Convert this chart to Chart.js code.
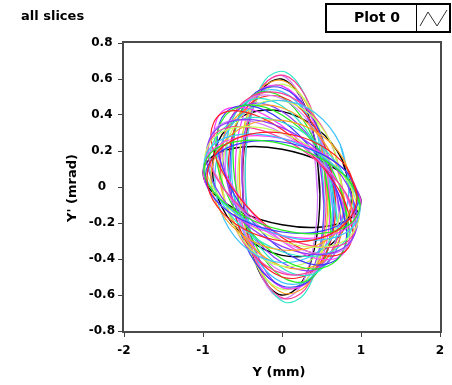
<!DOCTYPE html>
<html>
<head>
<meta charset="utf-8">
<script src="https://cdn.jsdelivr.net/npm/chart.js@4.4.1/dist/chart.umd.min.js"></script>
<style>
html, body { margin: 0; padding: 0; background: #fff; }
#wrap { width: 452px; height: 385px; }
</style>
</head>
<body>
<div id="wrap"><canvas id="myChart" width="452" height="385"></canvas></div>
<script>
// axis ticks
const xTicks = [-2, -1, 0, 1, 2];
const yTicks = [-0.8, -0.6, -0.4, -0.2, 0, 0.2, 0.4, 0.6, 0.8];

// one closed curve per slice, [Y (mm), Y' (mrad)]
const slice01 = [[1,-0.08],[0.866,0.036],[0.5,0.142],[0,0.21],[-0.5,0.222],[-0.866,0.174],[-1,0.08],[-0.866,-0.036],[-0.5,-0.142],[0,-0.21],[0.5,-0.222],[0.866,-0.174]];
const slice02 = [[0.99,-0.1],[0.857,0.033],[0.495,0.158],[0,0.24],[-0.495,0.258],[-0.857,0.207],[-0.99,0.1],[-0.857,-0.033],[-0.495,-0.158],[0,-0.24],[0.495,-0.258],[0.857,-0.207]];
const slice03 = [[0.99,-0.12],[0.857,0.031],[0.495,0.174],[0,0.27],[-0.495,0.294],[-0.857,0.239],[-0.99,0.12],[-0.857,-0.031],[-0.495,-0.174],[0,-0.27],[0.495,-0.294],[0.857,-0.239]];
const slice04 = [[0.98,-0.15],[0.849,0.02],[0.49,0.185],[0,0.3],[-0.49,0.335],[-0.849,0.28],[-0.98,0.15],[-0.849,-0.02],[-0.49,-0.185],[0,-0.3],[0.49,-0.335],[0.849,-0.28]];
const slice05 = [[0.96,-0.18],[0.831,0.009],[0.48,0.196],[0,0.33],[-0.48,0.376],[-0.831,0.321],[-0.96,0.18],[-0.831,-0.009],[-0.48,-0.196],[0,-0.33],[0.48,-0.376],[0.831,-0.321]];
const slice06 = [[0.93,-0.22],[0.805,-0.041],[0.465,0.15],[0,0.3],[-0.465,0.37],[-0.805,0.34],[-0.93,0.22],[-0.805,0.041],[-0.465,-0.15],[0,-0.3],[0.465,-0.37],[0.805,-0.34]];
const slice07 = [[0.9,-0.25],[0.779,-0.064],[0.45,0.145],[0,0.32],[-0.45,0.415],[-0.779,0.404],[-0.9,0.29],[-0.779,0.104],[-0.45,-0.105],[0,-0.28],[0.45,-0.375],[0.779,-0.364]];
const slice08 = [[0.86,-0.26],[0.745,-0.063],[0.43,0.157],[0,0.34],[-0.43,0.437],[-0.745,0.423],[-0.86,0.3],[-0.745,0.103],[-0.43,-0.117],[0,-0.3],[0.43,-0.397],[0.745,-0.383]];
const slice09 = [[0.82,-0.25],[0.71,-0.035],[0.41,0.192],[0,0.37],[-0.41,0.452],[-0.71,0.415],[-0.82,0.27],[-0.71,0.055],[-0.41,-0.172],[0,-0.35],[0.41,-0.432],[0.71,-0.395]];
const slice10 = [[0.88,-0.06],[0.762,0.151],[0.44,0.326],[0,0.42],[-0.44,0.406],[-0.762,0.289],[-0.88,0.1],[-0.762,-0.111],[-0.44,-0.286],[0,-0.38],[0.44,-0.366],[0.762,-0.249]];
const slice11 = [[0.85,0.01],[0.736,0.238],[0.425,0.41],[0,0.48],[-0.425,0.43],[-0.736,0.272],[-0.85,0.05],[-0.736,-0.178],[-0.425,-0.35],[0,-0.42],[0.425,-0.37],[0.736,-0.212]];
const slice12 = [[0.8,-0.12],[0.693,0.116],[0.4,0.321],[0,0.44],[-0.4,0.441],[-0.693,0.324],[-0.8,0.12],[-0.693,-0.116],[-0.4,-0.321],[0,-0.44],[0.4,-0.441],[0.693,-0.324]];
const slice13 = [[0.75,-0.2],[0.65,0.037],[0.375,0.264],[0,0.42],[-0.375,0.464],[-0.65,0.383],[-0.75,0.2],[-0.65,-0.037],[-0.375,-0.264],[0,-0.42],[0.375,-0.464],[0.65,-0.383]];
const slice14 = [[0.72,-0.14],[0.624,0.12],[0.36,0.351],[0,0.49],[-0.36,0.501],[-0.624,0.38],[-0.72,0.16],[-0.624,-0.1],[-0.36,-0.331],[0,-0.47],[0.36,-0.481],[0.624,-0.36]];
const slice15 = [[0.68,-0.1],[0.589,0.163],[0.34,0.383],[0,0.5],[-0.34,0.483],[-0.589,0.337],[-0.68,0.1],[-0.589,-0.163],[-0.34,-0.383],[0,-0.5],[0.34,-0.483],[0.589,-0.337]];
const slice16 = [[0.64,-0.12],[0.554,0.161],[0.32,0.399],[0,0.53],[-0.32,0.519],[-0.554,0.369],[-0.64,0.12],[-0.554,-0.161],[-0.32,-0.399],[0,-0.53],[0.32,-0.519],[0.554,-0.369]];
const slice17 = [[0.61,-0.1],[0.53,0.193],[0.31,0.435],[0.01,0.56],[-0.29,0.535],[-0.51,0.367],[-0.59,0.1],[-0.51,-0.193],[-0.29,-0.435],[0.01,-0.56],[0.31,-0.535],[0.53,-0.367]];
const slice18 = [[0.58,-0.08],[0.505,0.226],[0.3,0.471],[0.02,0.59],[-0.26,0.551],[-0.465,0.364],[-0.54,0.08],[-0.465,-0.226],[-0.26,-0.471],[0.02,-0.59],[0.3,-0.551],[0.505,-0.364]];
const slice19 = [[0.56,-0.06],[0.489,0.258],[0.295,0.507],[0.03,0.62],[-0.235,0.567],[-0.429,0.362],[-0.5,0.06],[-0.429,-0.258],[-0.235,-0.507],[0.03,-0.62],[0.295,-0.567],[0.489,-0.362]];
const slice20 = [[0.535,-0.08],[0.468,0.251],[0.285,0.514],[0.035,0.64],[-0.215,0.594],[-0.398,0.389],[-0.465,0.08],[-0.398,-0.251],[-0.215,-0.514],[0.035,-0.64],[0.285,-0.594],[0.468,-0.389]];
const slice21 = [[0.48,-0.04],[0.414,0.265],[0.235,0.5],[-0.01,0.6],[-0.255,0.54],[-0.434,0.335],[-0.5,0.04],[-0.434,-0.265],[-0.255,-0.5],[-0.01,-0.6],[0.235,-0.54],[0.414,-0.335]];
const slice22 = [[0.45,-0.05],[0.388,0.267],[0.22,0.512],[-0.01,0.62],[-0.24,0.562],[-0.408,0.353],[-0.47,0.05],[-0.408,-0.267],[-0.24,-0.512],[-0.01,-0.62],[0.22,-0.562],[0.388,-0.353]];
const slice23 = [[0.95,-0.05],[0.823,0.107],[0.475,0.235],[0,0.3],[-0.475,0.285],[-0.823,0.193],[-0.95,0.05],[-0.823,-0.107],[-0.475,-0.235],[0,-0.3],[0.475,-0.285],[0.823,-0.193]];
const slice24 = [[0.92,-0.14],[0.797,0.059],[0.46,0.242],[0,0.36],[-0.46,0.382],[-0.797,0.301],[-0.92,0.14],[-0.797,-0.059],[-0.46,-0.242],[0,-0.36],[0.46,-0.382],[0.797,-0.301]];
const slice25 = [[0.78,-0.08],[0.675,0.183],[0.39,0.403],[0,0.52],[-0.39,0.503],[-0.675,0.357],[-0.78,0.12],[-0.675,-0.143],[-0.39,-0.363],[0,-0.48],[0.39,-0.463],[0.675,-0.317]];
const slice26 = [[0.66,-0.1],[0.572,0.188],[0.33,0.426],[0,0.55],[-0.33,0.526],[-0.572,0.362],[-0.66,0.1],[-0.572,-0.188],[-0.33,-0.426],[0,-0.55],[0.33,-0.526],[0.572,-0.362]];
const slice27 = [[0.97,-0.06],[0.84,0.073],[0.485,0.187],[0,0.25],[-0.485,0.247],[-0.84,0.177],[-0.97,0.06],[-0.84,-0.073],[-0.485,-0.187],[0,-0.25],[0.485,-0.247],[0.84,-0.177]];
const slice28 = [[0.94,-0.2],[0.814,-0.038],[0.47,0.134],[0,0.27],[-0.47,0.334],[-0.814,0.308],[-0.94,0.2],[-0.814,0.038],[-0.47,-0.134],[0,-0.27],[0.47,-0.334],[0.814,-0.308]];
const slice29 = [[0.84,-0.22],[0.727,0.009],[0.42,0.236],[0,0.4],[-0.42,0.456],[-0.727,0.391],[-0.84,0.22],[-0.727,-0.009],[-0.42,-0.236],[0,-0.4],[0.42,-0.456],[0.727,-0.391]];
const slice30 = [[0.7,-0.2],[0.606,0.052],[0.35,0.29],[0,0.45],[-0.35,0.49],[-0.606,0.398],[-0.7,0.2],[-0.606,-0.052],[-0.35,-0.29],[0,-0.45],[0.35,-0.49],[0.606,-0.398]];
const slice31 = [[0.62,-0.18],[0.537,0.094],[0.31,0.343],[0,0.5],[-0.31,0.523],[-0.537,0.406],[-0.62,0.18],[-0.537,-0.094],[-0.31,-0.343],[0,-0.5],[0.31,-0.523],[0.537,-0.406]];
const slice32 = [[0.6,-0.04],[0.522,0.25],[0.31,0.474],[0.02,0.57],[-0.27,0.514],[-0.482,0.32],[-0.56,0.04],[-0.482,-0.25],[-0.27,-0.474],[0.02,-0.57],[0.31,-0.514],[0.522,-0.32]];
const slice33 = [[0.53,-0.1],[0.46,0.193],[0.27,0.435],[0.01,0.56],[-0.25,0.535],[-0.44,0.367],[-0.51,0.1],[-0.44,-0.193],[-0.25,-0.435],[0.01,-0.56],[0.27,-0.535],[0.46,-0.367]];
const slice34 = [[0.9,-0.03],[0.779,0.155],[0.45,0.302],[0,0.37],[-0.45,0.342],[-0.779,0.225],[-0.9,0.05],[-0.779,-0.135],[-0.45,-0.282],[0,-0.35],[0.45,-0.322],[0.779,-0.205]];
const slice35 = [[0.76,-0.03],[0.658,0.207],[0.38,0.393],[0,0.48],[-0.38,0.443],[-0.658,0.293],[-0.76,0.07],[-0.658,-0.167],[-0.38,-0.353],[0,-0.44],[0.38,-0.403],[0.658,-0.253]];
const slice36 = [[1,-0.09],[0.866,0.057],[0.5,0.189],[0,0.27],[-0.5,0.279],[-0.866,0.213],[-1,0.09],[-0.866,-0.057],[-0.5,-0.189],[0,-0.27],[0.5,-0.279],[0.866,-0.213]];

// drawing order, black ones last so they sit on top
const slices = [slice23, slice02, slice27, slice03, slice36, slice04, slice34, slice05, slice28, slice24,
  slice06, slice07, slice29, slice09, slice11, slice08, slice35, slice12, slice13, slice25,
  slice30, slice14, slice15, slice31, slice26, slice16, slice17, slice32, slice18, slice33,
  slice19, slice20, slice22, slice01, slice10, slice21];

const palette = ['#ff2020', '#22ee22', '#3a3aff', '#3cc4ff', '#ff3cff', '#c4ff5a',
  '#ffa020', '#8a3cff', '#ff3c96', '#2ee8c8', '#d27cff'];
const blackCount = 3;

const FONT = '"DejaVu Sans", Verdana, sans-serif';

var datasets = slices.map((s, i) => {
  let black = i >= slices.length - blackCount;
  return {
    label: 'slice ' + i,
    // repeat the first two points so the spline closes smoothly
    data: s.concat([s[0], s[1]]),
    showLine: true,
    borderColor: black ? '#000000' : palette[i % palette.length],
    borderWidth: black ? 1.4 : 1.2,
    pointRadius: 0,
    tension: 0.35,
    fill: false
  };
});

const extras = {
  id: 'extras',
  afterDraw(chart) {
    const ctx = chart.ctx;
    const a = chart.chartArea;
    ctx.save();
    // plot frame
    ctx.strokeStyle = '#4a4a4a';
    ctx.lineWidth = 2;
    ctx.strokeRect(a.left - 1, a.top - 1, a.right - a.left + 2, a.bottom - a.top + 2);

    ctx.fillStyle = '#000';
    ctx.textBaseline = 'middle';
    // title
    ctx.font = 'bold 13px ' + FONT;
    ctx.textAlign = 'left';
    ctx.fillText('all slices', 21, 17);
    // axis titles
    ctx.textAlign = 'center';
    ctx.fillText('Y (mm)', 279, 373);
    ctx.save();
    ctx.translate(73, 188);
    ctx.rotate(-Math.PI / 2);
    ctx.fillText("Y' (mrad)", 0, 0);
    ctx.restore();

    // legend box
    ctx.fillStyle = '#fff';
    ctx.fillRect(326, 4, 124, 28);
    ctx.strokeStyle = '#000';
    ctx.lineWidth = 2;
    ctx.strokeRect(326, 4, 124, 28);
    ctx.lineWidth = 1;
    ctx.beginPath();
    ctx.moveTo(416.5, 4);
    ctx.lineTo(416.5, 32);
    ctx.stroke();
    ctx.fillStyle = '#000';
    ctx.font = 'bold 14px ' + FONT;
    ctx.fillText('Plot 0', 377, 18);
    ctx.strokeStyle = '#333';
    ctx.beginPath();
    ctx.moveTo(420, 26);
    ctx.lineTo(428, 12);
    ctx.lineTo(437, 26);
    ctx.lineTo(447, 10);
    ctx.stroke();
    ctx.restore();
  }
};

var myChart = new Chart(document.getElementById('myChart'), {
  type: 'scatter',
  data: { datasets: datasets },
  plugins: [extras],
  options: {
    responsive: false,
    animation: false,
    devicePixelRatio: 1,
    layout: { padding: { top: 43, right: 12, left: 0, bottom: 0 } },
    plugins: { legend: { display: false }, tooltip: { enabled: false } },
    scales: {
      x: {
        type: 'linear',
        min: -2,
        max: 2,
        afterFit: s => { s.height = 54; },
        afterBuildTicks: s => { s.ticks = xTicks.map(v => ({ value: v })); },
        grid: { drawOnChartArea: false, drawTicks: true, tickLength: 6, color: '#404040' },
        border: { display: false },
        ticks: {
          padding: 7,
          color: '#000',
          font: { family: FONT, size: 12, weight: 'bold' },
          callback: v => String(v)
        }
      },
      y: {
        type: 'linear',
        min: -0.8,
        max: 0.8,
        afterFit: s => { s.width = 124; },
        afterBuildTicks: s => { s.ticks = yTicks.map(v => ({ value: v })); },
        grid: { drawOnChartArea: false, drawTicks: true, tickLength: 6, color: '#404040' },
        border: { display: false },
        ticks: {
          padding: 3,
          crossAlign: 'center',
          color: '#000',
          font: { family: FONT, size: 12, weight: 'bold' },
          callback: v => v === 0 ? '0' : v.toFixed(1)
        }
      }
    }
  }
});
</script>
</body>
</html>
